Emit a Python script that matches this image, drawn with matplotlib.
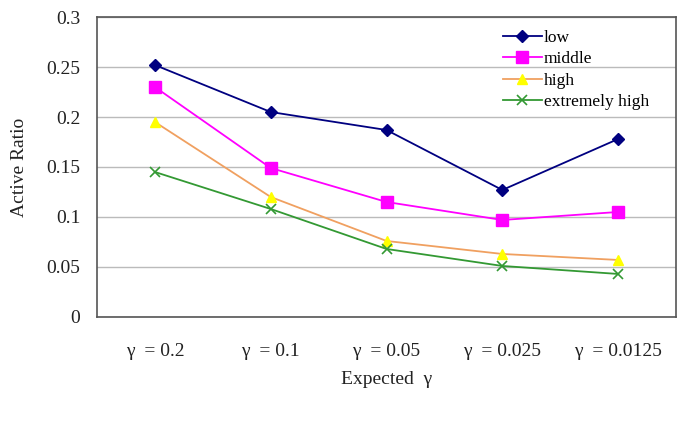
import matplotlib.pyplot as plt

plt.rcParams['font.family'] = ['Liberation Serif', 'DejaVu Serif']

categories = ['γ  = 0.2', 'γ  = 0.1', 'γ  = 0.05', 'γ  = 0.025', 'γ  = 0.0125']
low = [0.252, 0.205, 0.187, 0.127, 0.178]
middle = [0.230, 0.149, 0.115, 0.097, 0.105]
high = [0.195, 0.120, 0.076, 0.063, 0.057]
extremely_high = [0.145, 0.108, 0.068, 0.051, 0.043]

fig = plt.figure(figsize=(6.88, 4.26), dpi=100)
ax = fig.add_axes([0.141, 0.256, 0.8416, 0.704])

x = range(len(categories))
ax.plot(x, low, color='#000080', marker='D', markersize=6, lw=1.3, label='low')
ax.plot(x, middle, color='#FF00FF', marker='s', markersize=8.5, lw=1.3, label='middle')
ax.plot(x, high, color='#F0A060', marker='^', markersize=7.5, lw=1.3,
        markerfacecolor='#FFFF00', markeredgecolor='#FFFF00', label='high')
ax.plot(x, extremely_high, color='#339933', marker='x', markersize=6.5, lw=1.3,
        markeredgewidth=1.2, label='extremely high')

ax.set_xlim(-0.5, len(categories) - 0.5)
ax.set_ylim(0, 0.3)
ax.set_yticks([0, 0.05, 0.1, 0.15, 0.2, 0.25, 0.3])
ax.set_yticklabels(['0', '0.05', '0.1', '0.15', '0.2', '0.25', '0.3'])
ax.set_xticks(list(x))
ax.set_xticklabels(categories)
ax.tick_params(axis='both', length=0, labelsize=14, colors='#222222')
ax.tick_params(axis='x', pad=19)
ax.tick_params(axis='y', pad=12)
ax.yaxis.grid(True, color='#BBBBBB', lw=1)
ax.set_axisbelow(True)
for s in ax.spines.values():
    s.set_color('#555555')
    s.set_linewidth(1.2)

ax.set_ylabel('Active Ratio', fontsize=14, color='#222222', labelpad=13)
ax.set_xlabel('Expected  γ', fontsize=14, color='#222222', labelpad=8)

ax.legend(loc='upper left', bbox_to_anchor=(0.689, 0.98), frameon=False,
          fontsize=12.5, handlelength=2.25, handletextpad=0.1, labelspacing=0.3,
          borderaxespad=0)

fig.savefig('out.png', dpi=100)
